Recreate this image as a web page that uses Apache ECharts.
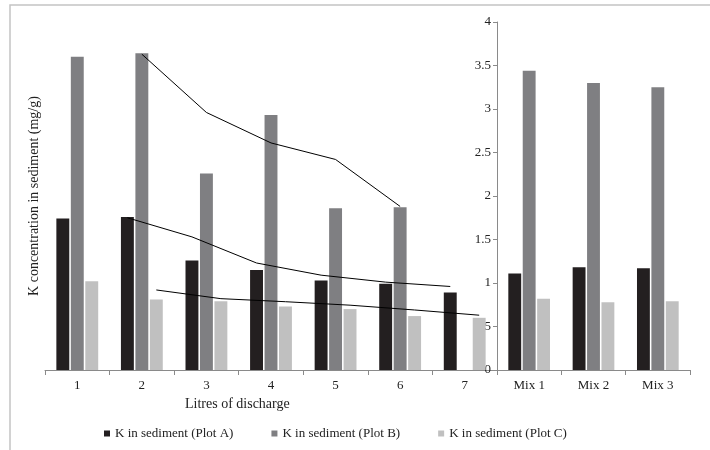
<!DOCTYPE html>
<html>
<head>
<meta charset="utf-8">
<script src="https://cdn.jsdelivr.net/npm/echarts@6/dist/echarts.min.js"></script>
<style>html,body{margin:0;padding:0;background:#fff}#c{width:710px;height:450px}</style>
</head>
<body>
<div id="c"></div>
<script>
const categoriesLeft = ['1', '2', '3', '4', '5', '6', '7'];
const categoriesRight = ['Mix 1', 'Mix 2', 'Mix 3'];
const seriesNames = ['K in sediment (Plot A)', 'K in sediment (Plot B)', 'K in sediment (Plot C)'];
const plotA = [1.74, 1.76, 1.26, 1.15, 1.03, 0.99, 0.89];
const plotB = [3.60, 3.64, 2.26, 2.93, 1.86, 1.87, null];
const plotC = [1.02, 0.81, 0.79, 0.73, 0.70, 0.62, 0.60];
const mixA = [1.11, 1.18, 1.17];
const mixB = [3.44, 3.30, 3.25];
const mixC = [0.82, 0.78, 0.79];
const trendA = [null, 1.75, 1.53, 1.23, 1.09, 1.01, 0.96];
const trendB = [null, 3.63, 2.96, 2.61, 2.42, 1.88, null];
const trendC = [null, 0.92, 0.82, 0.785, 0.745, 0.69, 0.63];
const yMin = 0, yMax = 4, yStep = 0.5;

const colors = ['#231f20', '#7f7f82', '#c0c0c0'];
const FONT = 'Liberation Serif';
const BAR_W = 0.2, BAR_GAP = 0.12;
const offs = [-BAR_W * (1 + BAR_GAP), 0, BAR_W * (1 + BAR_GAP)];

function trendData(arr, k) {
  const out = [];
  arr.forEach((v, i) => { if (v != null) out.push([i + 1 + offs[k], v]); });
  return out;
}

const chart = echarts.init(document.getElementById('c'), null, {renderer: 'canvas'});
const axisLineStyle = {lineStyle: {color: '#8a8a8a', width: 1}};
const labelStyle = {fontFamily: FONT, fontSize: 13, color: '#222'};

const barCommon = {type: 'bar', barWidth: (BAR_W * 100) + '%', barGap: (BAR_GAP * 100) + '%', animation: false};
const series = [];
[plotA, plotB, plotC].forEach((d, k) => series.push(Object.assign({}, barCommon, {
  name: seriesNames[k], xAxisIndex: 0, yAxisIndex: 0, data: d, itemStyle: {color: colors[k]}
})));
[mixA, mixB, mixC].forEach((d, k) => series.push(Object.assign({}, barCommon, {
  name: seriesNames[k], xAxisIndex: 1, yAxisIndex: 1, data: d, itemStyle: {color: colors[k]}
})));
[trendA, trendB, trendC].forEach((d, k) => series.push({
  type: 'line', name: 'trend' + k, xAxisIndex: 2, yAxisIndex: 0, data: trendData(d, k),
  symbol: 'none', lineStyle: {color: '#000', width: 1}, animation: false, z: 5
}));

chart.setOption({
  animation: false,
  textStyle: {fontFamily: FONT},
  legend: {
    data: seriesNames, left: 99, top: 422, itemWidth: 6, itemHeight: 6, itemGap: 38,
    icon: 'rect', textStyle: {fontFamily: FONT, fontSize: 13, color: '#222'}, selectedMode: false
  },
  grid: [
    {left: 45, right: 213, top: 22, bottom: 80},
    {left: 497, right: 20, top: 22, bottom: 80}
  ],
  xAxis: [
    {type: 'category', gridIndex: 0, data: categoriesLeft, axisLine: axisLineStyle,
     axisTick: {show: true, length: 5, lineStyle: {color: '#8a8a8a'}}, axisLabel: Object.assign({margin: 9}, labelStyle)},
    {type: 'category', gridIndex: 1, data: categoriesRight, axisLine: axisLineStyle,
     axisTick: {show: true, length: 5, lineStyle: {color: '#8a8a8a'}}, axisLabel: Object.assign({margin: 9}, labelStyle)},
    {type: 'value', gridIndex: 0, min: 0.5, max: categoriesLeft.length + 0.5, show: false}
  ],
  yAxis: [
    {type: 'value', gridIndex: 0, min: yMin, max: yMax, interval: yStep,
     axisLine: {show: false}, axisTick: {show: false}, axisLabel: {show: false}, splitLine: {show: false},
     name: 'K concentration in sediment (mg/g)', nameLocation: 'middle', nameGap: 4,
     nameTextStyle: {fontFamily: FONT, fontSize: 14, color: '#222'}},
    {type: 'value', gridIndex: 1, min: yMin, max: yMax, interval: yStep,
     axisLine: {show: true, lineStyle: {color: '#8a8a8a'}}, axisTick: {show: true, length: 4, lineStyle: {color: '#8a8a8a'}},
     axisLabel: Object.assign({margin: 6}, labelStyle), splitLine: {show: false}}
  ],
  graphic: [
    {type: 'rect', shape: {x: 10, y: 5, width: 730, height: 470}, style: {fill: 'none', stroke: '#c4c4c4', lineWidth: 1.5}, z: -1},
    {type: 'text', left: 185, top: 397, style: {text: 'Litres of discharge', fontFamily: FONT, fontSize: 14, fill: '#222'}}
  ],
  series: series
});
</script>
</body>
</html>
